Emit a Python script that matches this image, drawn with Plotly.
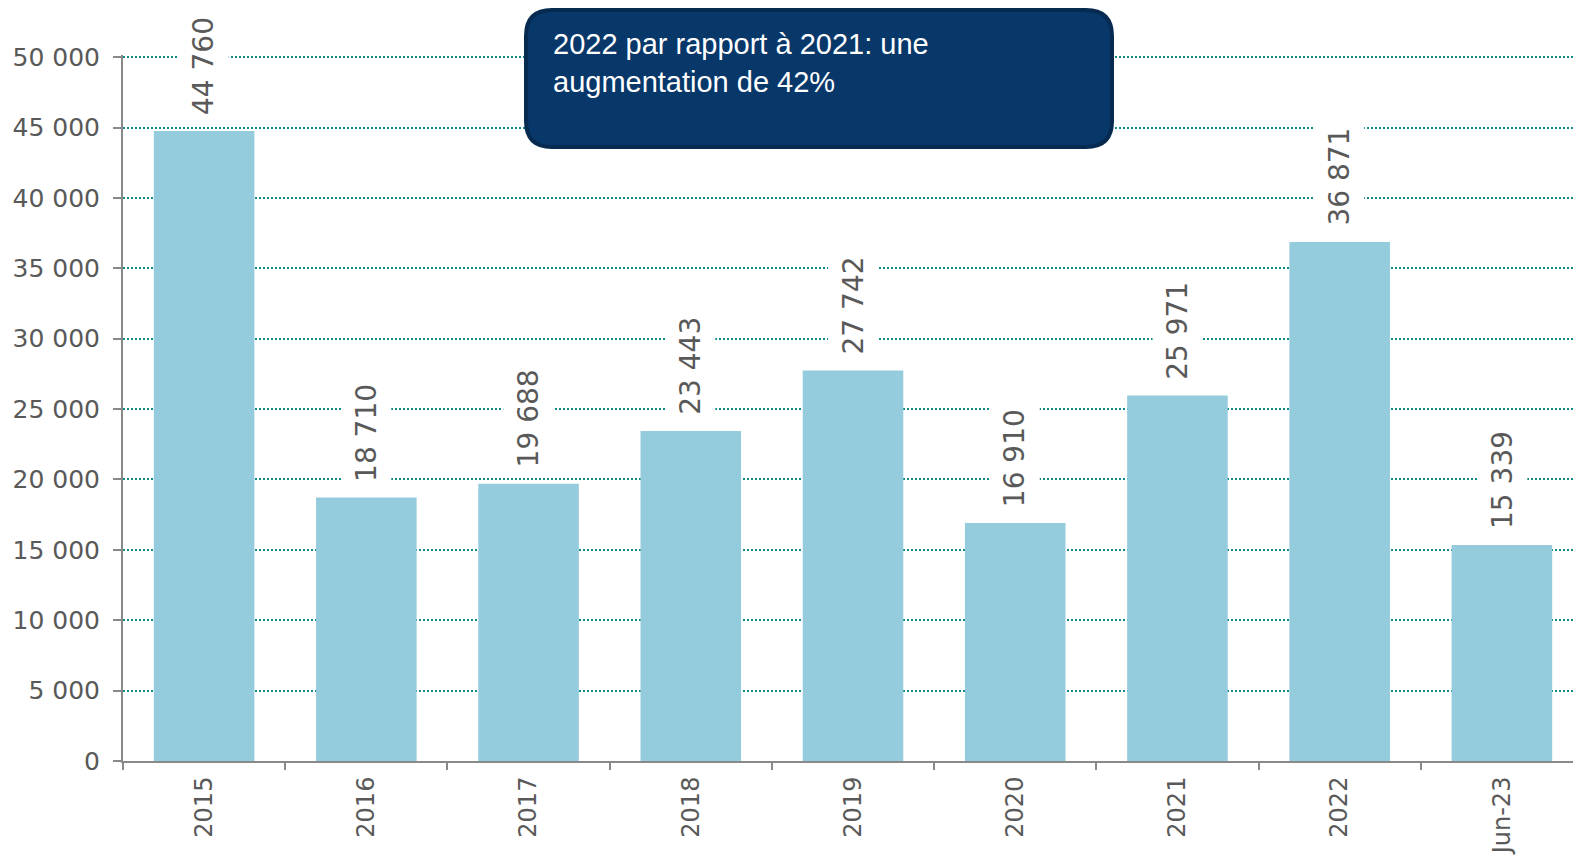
import plotly.graph_objects as go

categories = ["2015", "2016", "2017", "2018", "2019", "2020", "2021", "2022", "Jun-23"]
values = [44760, 18710, 19688, 23443, 27742, 16910, 25971, 36871, 15339]
value_labels = ["44 760", "18 710", "19 688", "23 443", "27 742", "16 910", "25 971", "36 871", "15 339"]
y_ticks = [0, 5000, 10000, 15000, 20000, 25000, 30000, 35000, 40000, 45000, 50000]
y_tick_labels = ["0", "5 000", "10 000", "15 000", "20 000", "25 000", "30 000", "35 000", "40 000", "45 000", "50 000"]
callout_text = "2022 par rapport à 2021: une<br>augmentation de 42%"

# page body has an 8px offset; geometry below is in figure coordinates
W, H = 1581, 860
L, R, T, B = 115, 6, 47, 107
pw, ph = W - L - R, H - T - B

fig = go.Figure()
fig.add_trace(go.Bar(
    x=list(range(len(categories))), y=values,
    marker=dict(color="#95CCDD", line=dict(width=0)),
    width=0.62, hoverinfo="y",
))

for i, (v, lab) in enumerate(zip(values, value_labels)):
    fig.add_annotation(
        x=i, y=v, text=lab, textangle=-90, showarrow=False,
        xanchor="center", yanchor="bottom", yshift=7,
        font=dict(family="DejaVu Sans", size=28, color="#595959"),
        bgcolor="white", borderpad=8,
    )

def px(xp):
    return (xp - L) / pw

def py(yp):
    return (H - B - yp) / ph

x0, x1, y0, y1, r = 518, 1104, 2, 139, 26
path = (
    f"M {px(x0 + r)},{py(y0)} L {px(x1 - r)},{py(y0)} "
    f"Q {px(x1)},{py(y0)} {px(x1)},{py(y0 + r)} "
    f"L {px(x1)},{py(y1 - r)} Q {px(x1)},{py(y1)} {px(x1 - r)},{py(y1)} "
    f"L {px(x0 + r)},{py(y1)} Q {px(x0)},{py(y1)} {px(x0)},{py(y1 - r)} "
    f"L {px(x0)},{py(y0 + r)} Q {px(x0)},{py(y0)} {px(x0 + r)},{py(y0)} Z"
)
fig.add_shape(type="path", path=path, xref="paper", yref="paper",
              fillcolor="#08376A", line=dict(color="#062A50", width=4), layer="above")
fig.add_annotation(
    x=px(543), y=py(18), xref="paper", yref="paper", text=callout_text,
    showarrow=False, xanchor="left", yanchor="top", align="left",
    font=dict(family="Liberation Sans", size=29, color="white"),
)

fig.update_layout(
    width=W, height=H,
    margin=dict(l=L, r=R, t=T, b=B, autoexpand=False),
    paper_bgcolor="white", plot_bgcolor="white",
    showlegend=False,
    xaxis=dict(
        tickmode="array", tickvals=list(range(len(categories))), ticktext=categories,
        tickangle=-90, ticks="", showgrid=False, automargin=False,
        showline=True, linecolor="#898989", linewidth=2, ticklabelstandoff=4,
        tickfont=dict(family="DejaVu Sans", size=24, color="#595959"),
        range=[-0.5, 8.5], zeroline=False,
        minor=dict(tickmode="array", tickvals=[i - 0.5 for i in range(len(categories))],
                   ticks="outside", ticklen=7, tickcolor="#898989", tickwidth=2, showgrid=False),
    ),
    yaxis=dict(
        range=[0, 50150], tickvals=y_ticks, ticktext=y_tick_labels,
        ticks="outside", ticklen=8, tickcolor="#898989", tickwidth=2,
        showline=True, linecolor="#898989", linewidth=2,
        showgrid=True, gridcolor="#108A8A", gridwidth=2, griddash="2px,2px",
        zeroline=False, automargin=False, ticklabelstandoff=8,
        tickfont=dict(family="DejaVu Sans", size=25, color="#595959"),
    ),
)

fig.write_html("out.html")
